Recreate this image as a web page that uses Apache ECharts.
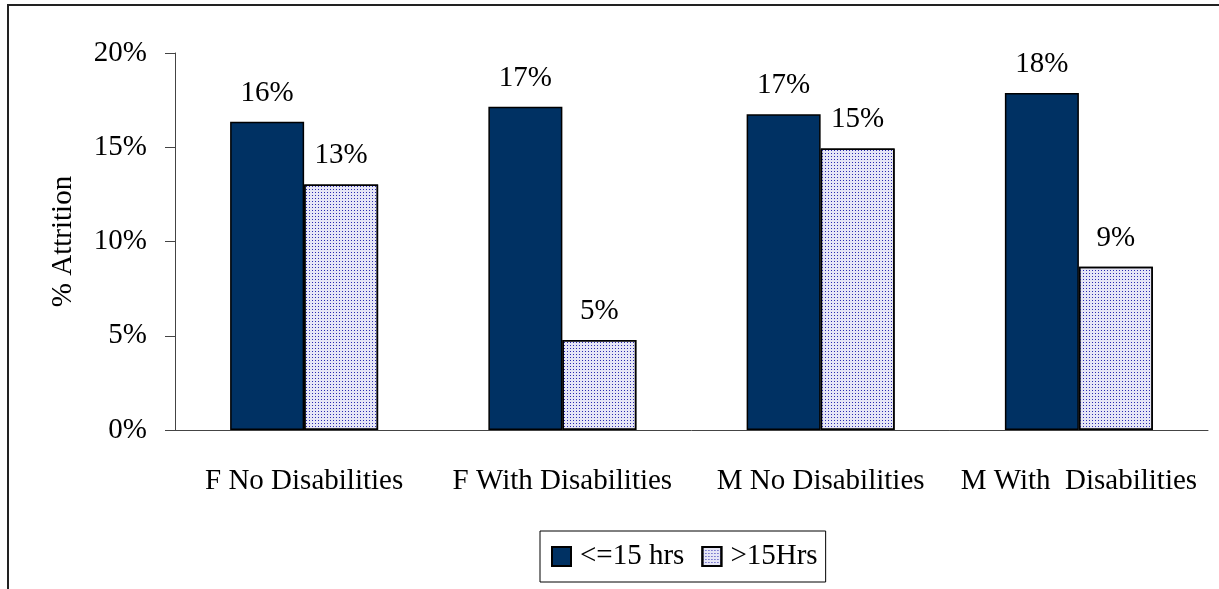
<!DOCTYPE html>
<html>
<head>
<meta charset="utf-8">
<script src="https://cdn.jsdelivr.net/npm/echarts@6/dist/echarts.min.js"></script>
<style>
  body { margin: 0; background: #fff; }
  #chart { width: 1219px; height: 589px; }
</style>
</head>
<body>
<div id="chart"></div>
<script>
const categories = ['F No Disabilities', 'F With Disabilities', 'M No Disabilities', 'M With  Disabilities']
const upTo15 = [16.35, 17.15, 16.75, 17.88]
const over15 = [13.03, 4.77, 14.94, 8.66]
const yTicks = [0, 5, 10, 15, 20]

const font = 'Liberation Serif, Times New Roman, serif'
const fs = 29

const dots = {
  symbol: 'rect',
  symbolSize: 1,
  color: '#2c2cb0',
  dashArrayX: [1, 2],
  dashArrayY: [1, 2]
}

const valueLabel = {
  show: true, position: 'top', distance: 14,
  fontFamily: font, fontSize: fs, color: '#000',
  formatter: p => Math.round(p.value) + '%'
}

const option = {
  animation: false,
  textStyle: { fontFamily: font, color: '#000' },
  graphic: [{
    type: 'polyline',
    shape: { points: [[8, 589], [8, 5], [1219, 5]] },
    style: { stroke: '#222', lineWidth: 2, fill: null }
  }],
  grid: { left: 175, right: 11, top: 53, bottom: 159 },
  legend: {
    left: 540,
    top: 531,
    padding: [11, 8, 11, 11],
    borderColor: '#000',
    borderWidth: 1,
    icon: 'rect',
    itemWidth: 19,
    itemHeight: 19,
    itemGap: 17,
    textStyle: { fontFamily: font, fontSize: fs, color: '#000', padding: [0, 0, 0, 4] },
    data: ['<=15 hrs', '>15Hrs']
  },
  xAxis: {
    type: 'category',
    data: categories,
    axisLine: { lineStyle: { color: '#444', width: 1 } },
    axisTick: { length: 10, lineStyle: { color: '#444' } },
    axisLabel: { interval: 0, fontFamily: font, fontSize: fs, color: '#000', margin: 37 }
  },
  yAxis: {
    type: 'value',
    min: yTicks[0],
    max: yTicks[yTicks.length - 1],
    interval: 5,
    name: '% Attrition',
    nameLocation: 'middle',
    nameGap: 97,
    nameTextStyle: { fontFamily: font, fontSize: fs, color: '#000' },
    axisLine: { show: true, lineStyle: { color: '#444', width: 1 } },
    axisTick: { show: true, length: 10, lineStyle: { color: '#444' } },
    splitLine: { show: false },
    axisLabel: { fontFamily: font, fontSize: fs, color: '#000', margin: 28, formatter: '{value}%' }
  },
  series: [
    {
      name: '<=15 hrs',
      type: 'bar',
      data: upTo15,
      barWidth: 74,
      barGap: '0%',
      itemStyle: { color: '#003163', borderColor: '#000', borderWidth: 1.5 },
      label: valueLabel
    },
    {
      name: '>15Hrs',
      type: 'bar',
      data: over15,
      barWidth: 74,
      itemStyle: { color: '#e6e6f6', borderColor: '#000', borderWidth: 1.5, decal: dots },
      label: valueLabel
    }
  ]
}

echarts.init(document.getElementById('chart')).setOption(option)
</script>
</body>
</html>
